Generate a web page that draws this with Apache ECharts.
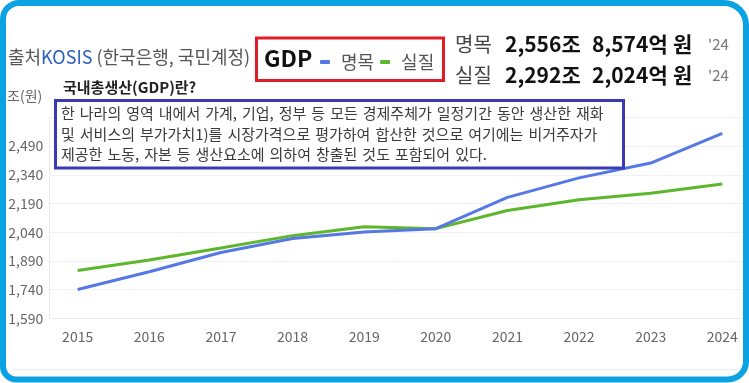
<!DOCTYPE html>
<html>
<head>
<meta charset="utf-8">
<script src="https://cdn.jsdelivr.net/npm/echarts@6/dist/echarts.min.js"></script>
<style>
html,body{margin:0;padding:0;background:#fff;}
#c{width:749px;height:383px;}
</style>
</head>
<body>
<div id="c"></div>
<script>
var years = [2015, 2016, 2017, 2018, 2019, 2020, 2021, 2022, 2023, 2024];
var nominal = [1740.8, 1833.0, 1934.2, 2006.9, 2040.6, 2058.5, 2221.9, 2323.8, 2401.2, 2556.9];
var real = [1840, 1895, 1957, 2022, 2069, 2058.5, 2153, 2210, 2244, 2292.2];
var seriesNames = ['명목', '실질'];
var yTicks = [1590, 1740, 1890, 2040, 2190, 2340, 2490, 2640];
var summaryNominal = ['명목', '2,556조', '8,574억', '원', '\'24'];
var summaryReal = ['실질', '2,292조', '2,024억', '원', '\'24'];
var infoLines = [
  '한 나라의 영역 내에서 가계, 기업, 정부 등 모든 경제주체가 일정기간 동안 생산한 재화',
  '및 서비스의 부가가치1)를 시장가격으로 평가하여 합산한 것으로 여기에는 비거주자가',
  '제공한 노동, 자본 등 생산요소에 의하여 창출된 것도 포함되어 있다.'
];

var FONT = "'Noto Sans CJK KR', 'Noto Sans', sans-serif";
var BLUE = '#5578e4';
var GREEN = '#5db62b';

function pairs(vals) { return years.map(function (y, i) { return [y, vals[i]]; }); }

var chart = echarts.init(document.getElementById('c'));

var graphics = [
  // outer frame
  { type: 'rect', z: 100, silent: true,
    shape: { x: 3, y: 3, width: 743, height: 376.5, r: [16, 22, 18, 13] },
    style: { fill: 'none', stroke: '#0ba2e3', lineWidth: 6 } },
  { type: 'line', z: 50, silent: true,
    shape: { x1: 14, y1: 369.5, x2: 742, y2: 369.5 },
    style: { stroke: '#ececec', lineWidth: 1 } },
  // source
  { type: 'text', z: 60, left: 8, top: 48,
    style: { text: '{g|출처}{b|KOSIS}{g| (한국은행, 국민계정)}',
      rich: {
        g: { fontFamily: FONT, fontSize: 18, fill: '#555' },
        b: { fontFamily: FONT, fontSize: 18, fill: '#2d5fc0' }
      } } },
  // legend box
  { type: 'rect', z: 60, silent: true,
    shape: { x: 256.5, y: 38, width: 187, height: 42.5 },
    style: { fill: 'none', stroke: '#e01c26', lineWidth: 3 } },
  { type: 'text', z: 60, left: 264, top: 47,
    style: { text: 'GDP', fontFamily: FONT, fontSize: 23, fontWeight: 'bold', fill: '#111' } },
  // info title
  { type: 'text', z: 60, left: 63, top: 80,
    style: { text: '국내총생산(GDP)란?', fontFamily: FONT, fontSize: 15, fontWeight: 'bold', fill: '#222' } },
  // info box
  { type: 'rect', z: 55, silent: true,
    shape: { x: 55.5, y: 100.5, width: 568, height: 67.5 },
    style: { fill: '#fff', stroke: '#3a3ab6', lineWidth: 3 } }
];

// right-hand summary, piece by piece
var sumX = [455, 505, 592, 673, 708];
function addSummary(parts, cy) {
  parts.forEach(function (t, i) {
    var isLabel = i === 0, isYear = i === 4;
    graphics.push({ type: 'text', z: 60, x: sumX[i], y: cy,
      style: { text: t, fontFamily: FONT, verticalAlign: 'middle',
        fontSize: isYear ? 15 : (isLabel ? 20 : 21),
        fontWeight: (isLabel || isYear) ? 'normal' : 'bold',
        fill: isLabel ? '#444' : (isYear ? '#777' : '#111') } });
  });
}
addSummary(summaryNominal, 44);
addSummary(summaryReal, 75);

infoLines.forEach(function (t, i) {
  graphics.push({ type: 'text', z: 60, left: 61, top: 106 + i * 20.5,
    style: { text: t.replace(/ /g, '\u2004'), fontFamily: FONT, fontSize: 15, fill: '#3a3a3a' } });
});

chart.setOption({
  animation: false,
  backgroundColor: '#fff',
  textStyle: { fontFamily: FONT },
  grid: { left: 49.3, right: 7, top: 117.4, bottom: 64.7, containLabel: false },
  legend: {
    left: 315, top: 48,
    icon: 'roundRect', itemWidth: 10, itemHeight: 4, itemGap: 6,
    data: seriesNames,
    textStyle: { fontFamily: FONT, fontSize: 18, color: '#555', padding: [0, 0, 0, 6] }
  },
  xAxis: {
    type: 'value', min: 2014.604, max: 2024.275,
    axisLine: { show: true, lineStyle: { color: '#e8ecf1' } },
    axisTick: { show: false },
    splitLine: { show: false },
    axisLabel: { customValues: years, formatter: function (v) { return String(v); },
      color: '#666', fontSize: 14, margin: 11, fontFamily: FONT }
  },
  yAxis: {
    type: 'value', min: yTicks[0], max: yTicks[yTicks.length - 1], interval: yTicks[1] - yTicks[0],
    name: '조(원)', nameLocation: 'end', nameGap: 15,
    nameTextStyle: { align: 'right', color: '#666', fontSize: 14, padding: [0, 7, 0, 0], fontFamily: FONT },
    axisLine: { show: true, lineStyle: { color: '#e8ecf1' } },
    axisTick: { show: false },
    splitLine: { lineStyle: { color: '#eef1f5' } },
    axisLabel: { showMaxLabel: false, color: '#666', fontSize: 14, margin: 6, fontFamily: FONT,
      formatter: function (v) { return v.toLocaleString('en-US'); } }
  },
  series: [
    { name: seriesNames[1], type: 'line', data: pairs(real), symbol: 'none',
      lineStyle: { width: 3, color: GREEN }, itemStyle: { color: GREEN } },
    { name: seriesNames[0], type: 'line', data: pairs(nominal), symbol: 'none',
      lineStyle: { width: 3, color: BLUE }, itemStyle: { color: BLUE } }
  ],
  graphic: graphics
});
</script>
</body>
</html>
